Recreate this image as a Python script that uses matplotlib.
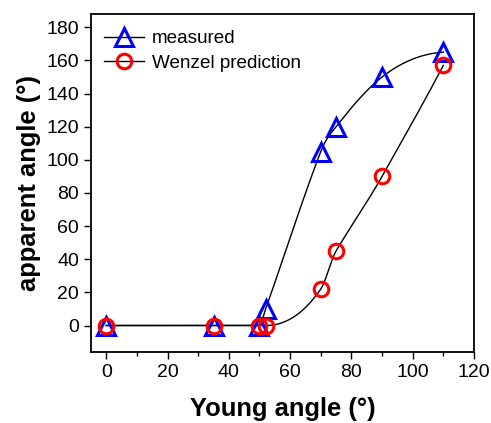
import matplotlib
matplotlib.use('Agg')
import matplotlib.pyplot as plt
from matplotlib.ticker import MultipleLocator
import numpy as np

plt.rcParams['font.family'] = ['Liberation Sans', 'DejaVu Sans']

young = [0, 35, 50, 52, 70, 75, 90, 110]
measured = [0, 0, 0, 10, 105, 120, 150, 165]
wenzel = [0, 0, 0, 0, 22, 45, 90, 157]


def akima(x, y, xs):
    # Akima spline through the points (smooth connect line)
    x = np.asarray(x, float)
    y = np.asarray(y, float)
    n = len(x)
    h = np.diff(x)
    d = np.diff(y) / h
    dd = np.concatenate([[3 * d[0] - 2 * d[1], 2 * d[0] - d[1]], d,
                         [2 * d[-1] - d[-2], 3 * d[-1] - 2 * d[-2]]])
    m = np.zeros(n)
    for i in range(n):
        w1 = abs(dd[i + 3] - dd[i + 2])
        w2 = abs(dd[i + 1] - dd[i])
        if w1 + w2 == 0:
            m[i] = 0.5 * (dd[i + 1] + dd[i + 2])
        else:
            m[i] = (w1 * dd[i + 1] + w2 * dd[i + 2]) / (w1 + w2)
    out = np.empty_like(xs)
    for j, xv in enumerate(xs):
        i = min(np.searchsorted(x, xv, side='right') - 1, n - 2)
        t = (xv - x[i]) / h[i]
        out[j] = ((2 * t**3 - 3 * t**2 + 1) * y[i]
                  + (t**3 - 2 * t**2 + t) * h[i] * m[i]
                  + (-2 * t**3 + 3 * t**2) * y[i + 1]
                  + (t**3 - t**2) * h[i] * m[i + 1])
    return out


fig = plt.figure(figsize=(4.91, 4.23), dpi=100)
ax = fig.add_axes([0.1853, 0.1678, 0.780, 0.799])

xs = np.linspace(young[0], young[-1], 600)
ax.plot(xs, akima(young, measured, xs), color='black', lw=1.0)
ax.plot(xs, akima(young, wenzel, xs), color='black', lw=1.0)

ax.plot(young, measured, linestyle='none', marker='^', ms=12.5, mfc='none',
        mec='blue', mew=2.2, zorder=3)
ax.plot(young, wenzel, linestyle='none', marker='o', ms=10.5, mfc='none',
        mec='red', mew=2.2, zorder=4)

# legend handles: line through marker
h1, = ax.plot([], [], color='black', lw=1.0, marker='^', ms=12.5, mfc='none',
              mec='blue', mew=2.2)
h2, = ax.plot([], [], color='black', lw=1.0, marker='o', ms=10.5, mfc='none',
              mec='red', mew=2.2)
ax.legend([h1, h2], ['measured', 'Wenzel prediction'], loc='upper left',
          frameon=False, fontsize=13.6, handlelength=2.1, handletextpad=0.45,
          labelspacing=0.4, borderaxespad=0.0,
          bbox_to_anchor=(0.014, 0.975))

ax.set_xlim(-5, 120)
ax.set_ylim(-16, 188)
ax.xaxis.set_major_locator(MultipleLocator(20))
ax.xaxis.set_minor_locator(MultipleLocator(10))
ax.yaxis.set_major_locator(MultipleLocator(20))

ax.tick_params(axis='both', which='major', direction='out', length=5,
               width=1, labelsize=14, top=False, right=False)
ax.tick_params(axis='x', which='minor', direction='out', length=3, width=1,
               top=False)
for s in ax.spines.values():
    s.set_linewidth(1.3)

ax.set_xlabel('Young angle (°)', fontsize=18.4, fontweight='bold', labelpad=12)
ax.set_ylabel('apparent angle (°)', fontsize=18.4, fontweight='bold', labelpad=4)

fig.savefig('out.png', dpi=100)
